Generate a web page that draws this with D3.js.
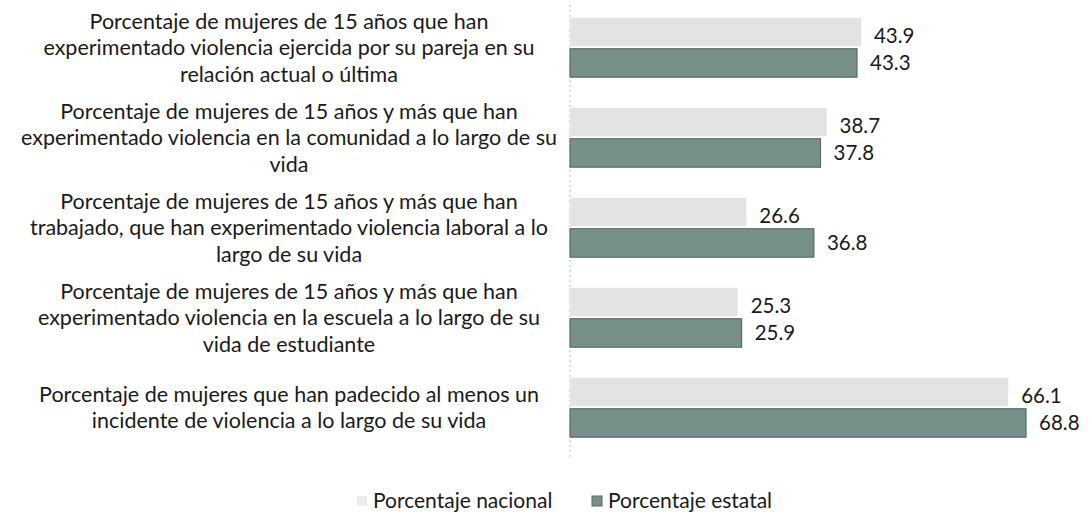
<!DOCTYPE html>
<html lang="es">
<head>
<meta charset="UTF-8">
<title>Violencia contra las mujeres</title>
<script src="https://d3js.org/d3.v7.min.js"></script>
<style>
    body { margin: 0; background: #fff; overflow: hidden; }
    text { font-family: Lato, "Open Sans", sans-serif; fill: #1a1a1a; }
    .cat-label { font-size: 21.5px; text-anchor: middle; }
    .val-label { font-size: 20.5px; }
    .legend text { font-size: 21px; }
</style>
</head>
<body>
<svg id="chart"></svg>
<script>
// categories (already wrapped the way the original shows them)
const categories = [
    ["Porcentaje de mujeres de 15 años que han", "experimentado violencia ejercida por su pareja en su", "relación actual o última"],
    ["Porcentaje de mujeres de 15 años y más que han", "experimentado violencia en la comunidad a lo largo de su", "vida"],
    ["Porcentaje de mujeres de 15 años y más que han", "trabajado, que han experimentado violencia laboral a lo", "largo de su vida"],
    ["Porcentaje de mujeres de 15 años y más que han", "experimentado violencia en la escuela a lo largo de su", "vida de estudiante"],
    ["Porcentaje de mujeres que han padecido al menos un", "incidente de violencia a lo largo de su vida"]
];
const seriesNames = ["Porcentaje nacional", "Porcentaje estatal"];
const nacional = [43.9, 38.7, 26.6, 25.3, 66.1];
const estatal = [43.3, 37.8, 36.8, 25.9, 68.8];
const colors = ["#e3e3e3", "#77918a"];

const width = 1090, height = 516;
const svg = d3.select("#chart").attr("width", width).attr("height", height);

const x = d3.scaleLinear().domain([0, 70]).range([570, 1034]);
const y0 = d3.scaleBand().domain(d3.range(categories.length))
    .range([2.5, 452.5]).paddingInner(0.34).paddingOuter(0.17);
const y1 = d3.scaleBand().domain([0, 1]).range([0, y0.bandwidth()]).paddingInner(0.08);

// axis line (dotted, faint)
svg.append("line")
    .attr("x1", x(0)).attr("x2", x(0))
    .attr("y1", 5).attr("y2", 458)
    .attr("stroke", "#bbb").attr("stroke-width", 1)
    .attr("stroke-dasharray", "2,3");

const rows = categories.map((c, i) => ({ i, lines: c, vals: [nacional[i], estatal[i]] }));

const groups = svg.selectAll(".grp").data(rows).join("g")
    .attr("class", "grp")
    .attr("transform", d => `translate(0,${y0(d.i)})`);

groups.selectAll("rect").data(d => d.vals.map((v, s) => ({ v, s }))).join("rect")
    .attr("x", x(0))
    .attr("y", d => y1(d.s))
    .attr("width", d => x(d.v) - x(0))
    .attr("height", y1.bandwidth())
    .attr("fill", d => colors[d.s])
    .attr("stroke", d => d.s === 1 ? "#4d5f58" : "none")
    .attr("stroke-width", 1);

groups.selectAll(".val-label").data(d => d.vals.map((v, s) => ({ v, s }))).join("text")
    .attr("class", "val-label")
    .attr("x", d => x(d.v) + 13)
    .attr("y", d => y1(d.s) + y1.bandwidth() / 2 + (d.s === 0 ? 4 : 0))
    .attr("dy", "0.35em")
    .text(d => d.v.toFixed(1));

// category labels, centred on the group
const lineH = 26.5;
groups.append("text")
    .attr("class", "cat-label")
    .each(function (d) {
        const t = d3.select(this);
        const n = d.lines.length;
        d.lines.forEach((ln, k) => {
            t.append("tspan")
                .attr("x", 289)
                .attr("y", y0.bandwidth() / 2 + (k - (n - 1) / 2) * lineH)
                .attr("dy", "0.35em")
                .text(ln);
        });
    });

// legend
const legend = svg.append("g").attr("class", "legend");
const legendX = [357, 592];
seriesNames.forEach((name, s) => {
    const g = legend.append("g").attr("transform", `translate(${legendX[s]},501)`);
    g.append("rect").attr("x", 0).attr("y", -5).attr("width", 10).attr("height", 10)
        .attr("fill", s === 0 ? "#ececec" : colors[s])
        .attr("stroke", s === 1 ? "#5a6a64" : "none");
    g.append("text").attr("x", 16).attr("y", 0).attr("dy", "0.35em").text(name);
});
</script>
</body>
</html>
